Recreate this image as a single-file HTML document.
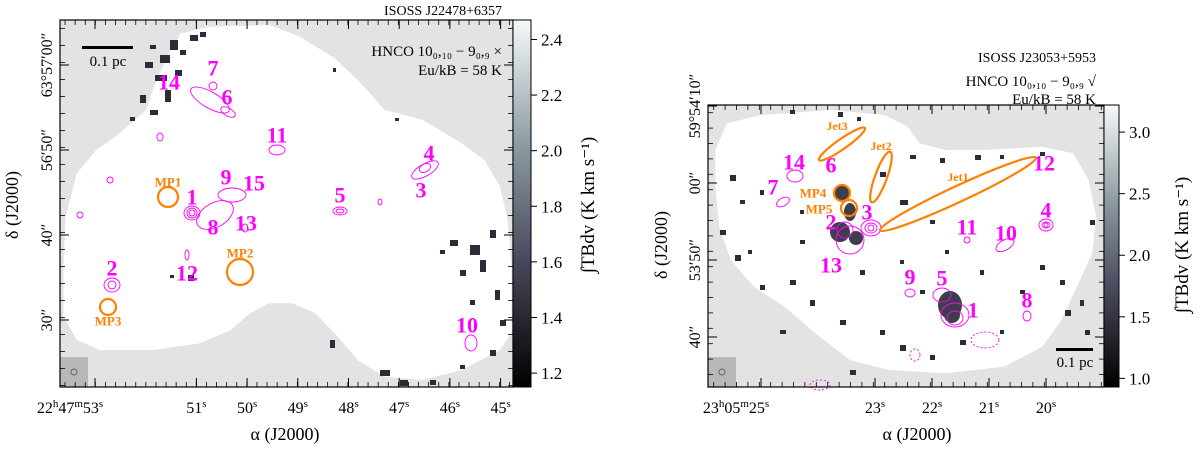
<!DOCTYPE html>
<html><head><meta charset="utf-8"><style>
html,body{margin:0;padding:0;background:#fff;width:1200px;height:449px;overflow:hidden}
svg text{font-family:"Liberation Serif",serif}
</style></head><body>
<svg id="fig" width="1200" height="449" xmlns="http://www.w3.org/2000/svg">
<defs>
<linearGradient id="cbL" x1="0" y1="1" x2="0" y2="0"><stop offset="0" stop-color="#000"/><stop offset="0.35" stop-color="#4a4a5e"/><stop offset="0.65" stop-color="#8a98a0"/><stop offset="1" stop-color="#f5fafa"/></linearGradient>
<clipPath id="clipL"><rect x="60" y="20" width="453" height="367"/></clipPath>
<clipPath id="clipR"><rect x="708" y="105" width="396" height="282"/></clipPath>
</defs>
<g id="panelL"></g>
<g id="panelR"></g>
</svg>
<script>
const NS="http://www.w3.org/2000/svg";
// ---- data arrays ----
const cbTicksL=[1.2,1.4,1.6,1.8,2.0,2.2,2.4];
const cbTicksR=[1.0,1.5,2.0,2.5,3.0];
const raTicksL=[53,51,50,49,48,47,46,45];
const raLabelsL=["22h47m53s","51s","50s","49s","48s","47s","46s","45s"];
const decTicksL=[60,50,40,30];
const decLabelsL=["63°57′00″","56′50″","40″","30″"];
const raTicksR=[25,23,22,21,20];
const raLabelsR=["23h05m25s","23s","22s","21s","20s"];
const decTicksR=[70,60,50,40];
const decLabelsR=["59°54′10″","00″","53′50″","40″"];
// axis functions
const xL=s=>95+(53-s)*50.7, yL=d=>65+(60-d)*8.5;
const xR=s=>761+(25-s)*57, yR=d=>106+(70-d)*7.7;
const cbyL=v=>387-(v-1.15)/(2.47-1.15)*367;
const cbyR=v=>387-(v-0.93)/(3.22-0.93)*282;

function el(tag,attrs,parent,txt){const e=document.createElementNS(NS,tag);for(const k in attrs)e.setAttribute(k,attrs[k]);if(txt!==undefined)e.textContent=txt;parent.appendChild(e);return e;}
const L=document.getElementById('panelL'),R=document.getElementById('panelR');

function poly(pts,sx,ox,sy){return pts.map(p=>(ox+p[0]/sx).toFixed(1)+","+(p[1]/sy).toFixed(1)).join(" ");}
const blobL=[[545,80],[700,75],[780,110],[870,175],[930,240],[970,290],[1000,330],[1100,360],[1200,430],[1260,480],[1300,560],[1320,660],[1330,800],[1330,1000],[1300,1050],[1200,1110],[1100,1140],[1000,1130],[930,1080],[870,1000],[820,940],[760,910],[700,910],[650,940],[600,990],[520,1030],[400,1050],[260,1050],[200,1020],[165,950],[165,800],[170,650],[200,520],[250,450],[300,410],[340,370],[380,330],[400,260],[430,180],[470,100]];
const blobR=[[330,370],[420,345],[600,330],[740,345],[800,380],[830,430],[900,450],[1000,450],[1150,440],[1230,460],[1270,540],[1290,650],[1280,760],[1240,860],[1200,960],[1150,1040],[1050,1100],[900,1120],[750,1110],[650,1080],[560,1000],[480,920],[400,860],[340,780],[310,680],[300,560],[300,450]];

function panel(g,fx,fy,fw,fh,blob,ox,clip){
  el('rect',{x:fx,y:fy,width:fw,height:fh,fill:'#e3e3e3'},g);
  const b=el('polygon',{points:poly(blob,2.6,ox,3),fill:'#fff','clip-path':'url(#'+clip+')'},g);
  
  
  const bm=el('rect',{x:fx,y:fh+fy-30,width:28,height:30,fill:'#b8b8b8'},g);
  
  el('circle',{cx:fx+14,cy:fy+fh-15,r:3,fill:'none',stroke:'#666'},g);
}
panel(L,60,20,453,367,blobL,0,'clipL');
panel(R,708,105,396,282,blobR,600,'clipR');

const pixL=[[150,45,6,4],[160,55,10,8],[145,62,8,6],[170,40,8,10],[180,50,6,5],[155,75,12,6],[140,95,6,8],[150,110,8,5],[165,90,6,12],[190,35,8,6],[200,32,6,5],[175,70,7,6],[130,117,5,4],[450,240,8,6],[470,245,10,10],[480,260,6,12],[490,230,6,8],[460,270,6,6],[495,290,5,10],[440,250,5,4],[470,300,5,5],[500,320,6,6],[490,350,6,6],[380,370,10,6],[400,380,8,6],[430,380,6,5],[460,365,5,4],[330,340,5,8],[188,275,6,6],[170,275,4,3],[333,68,3,4],[395,118,4,3]];
const pixR=[[730,175,6,6],[740,200,5,4],[760,190,4,5],[720,230,6,5],[735,255,6,6],[748,250,4,4],[790,110,5,4],[838,112,5,5],[857,117,4,4],[910,155,6,4],[940,158,5,5],[975,155,6,5],[1000,155,4,4],[1040,152,5,4],[880,172,6,5],[900,200,8,5],[930,220,5,4],[1040,265,5,5],[1060,280,5,5],[1065,310,6,6],[1080,300,4,6],[1090,220,5,5],[800,240,5,4],[790,280,6,5],[810,300,5,6],[840,320,6,5],[880,330,5,5],[900,345,6,6],[930,355,5,5],[960,340,6,5],[1000,330,4,4],[760,285,5,5],[780,330,6,4],[850,370,6,5],[920,290,5,4],[980,270,4,5],[1020,290,5,4],[1085,330,5,5],[900,260,4,4],[800,210,4,4],[860,270,5,5],[945,250,4,4]];
pixL.forEach(p=>{const r=el('rect',{x:p[0],y:p[1],width:p[2],height:p[3],fill:'#2a2c38','clip-path':'url(#clipL)'},L);});
pixR.forEach(p=>{const r=el('rect',{x:p[0],y:p[1],width:p[2],height:p[3],fill:'#2a2c38','clip-path':'url(#clipR)'},R);});
[[842,193,7,9],[850,212,6,9],[840,232,10,10],[856,238,7,7],[950,305,12,14],[952,315,8,8]].forEach(b=>{const e=el('ellipse',{cx:b[0],cy:b[1],rx:b[2],ry:b[3],fill:'#3c3e4a'},R);});

const mg='#ff00ff';
function ell(g,cx,cy,rx,ry,rot,c,sw,dash){const e=el('ellipse',{cx,cy,rx,ry,fill:'none',stroke:c||mg,'stroke-width':sw||0.9,transform:`rotate(${rot||0} ${cx} ${cy})`},g);if(dash)e.setAttribute('stroke-dasharray',dash);return e;}
[[192,213,8,7],[192,213,5,5],[192,213,3,3],[112,285,8,7],[112,285,4,4],[425,170,15,6,-30],[425,168,6,4,-30],[340,211,7,4],[340,211,4,2],[471,343,6,8],[277,150,8,5],[213,86,4,4],[210,100,22,8,30],[228,112,8,4,30],[215,215,20,12,-30],[232,195,14,7],[245,228,3,4],[187,255,2,5],[380,202,2,3],[160,137,3,4],[110,180,3,3],[80,215,3,3]].forEach(c=>{const e=ell(L,c[0],c[1],c[2],c[3],c[4]);});
[[871,228,10,8],[871,228,6,5],[871,228,3,3],[1046,225,7,6],[1046,225,4,3],[1046,225,2,2],[942,295,9,7],[955,315,14,12],[955,318,8,7],[910,293,5,4],[1027,316,4,5],[1005,245,10,5,-30],[967,240,3,3],[795,176,8,6],[783,202,7,4,-30],[850,240,14,14],[845,230,8,8]].forEach(c=>{const e=ell(R,c[0],c[1],c[2],c[3],c[4]);});
[[985,340,14,8],[915,355,5,6],[820,385,10,5]].forEach(c=>{const e=ell(R,c[0],c[1],c[2],c[3],0,mg,0.9,'2,2');});

function lbl(g,x,y,t,size,col,name){const e=el('text',{x,y,'font-size':size,'font-weight':'bold',fill:col,'text-anchor':'middle','dominant-baseline':'central'},g,t);return e;}
const srcL=[["1",192,197],["2",112,268],["3",421,190],["4",429,153],["5",340,195],["6",227,97],["7",213,68],["8",213,227],["9",226,177],["10",467,325],["11",277,135],["12",187,273],["13",246,223],["14",169,82],["15",254,183]];
const srcR=[["1",973,310],["2",831,222],["3",867,212],["4",1046,210],["5",942,278],["6",831,165],["7",773,187],["8",1027,300],["9",910,277],["10",1006,233],["11",967,227],["12",1044,163],["13",831,265],["14",794,162]];
srcL.forEach(s=>lbl(L,s[1],s[2],s[0],22,mg,'source-label-'+s[0]));
srcR.forEach(s=>lbl(R,s[1],s[2],s[0],22,mg,'source-label-'+s[0]));
const or='#ff8000';
[[168,197,10,"MP1",168,182],[240,272,13,"MP2",240,253],[108,307,8,"MP3",108,321]].forEach(m=>{const c=ell(L,m[0],m[1],m[2],m[2],0,or,2.2);lbl(L,m[4],m[5],m[3],13,or,'label-'+m[3].toLowerCase());});
[[842,193,8,"MP4",813,193],[849,208,8,"MP5",819,209]].forEach(m=>{const c=ell(R,m[0],m[1],m[2],m[2],0,or,2.2);lbl(R,m[4],m[5],m[3],13,or,'label-'+m[3].toLowerCase());});
[[842,144,28,5,-35,"Jet3",837,126],[881,177,27,6,-70,"Jet2",881,146],[958,194,86,8,-25,"Jet1",958,177]].forEach(j=>{const c=ell(R,j[0],j[1],j[2],j[3],j[4],or,2.2);lbl(R,j[6],j[7],j[5],12,or,'label-'+j[5].toLowerCase());});

function raText(g,x,y,s){
  const t=el('text',{x,y,'font-size':16,'text-anchor':'middle'},g);
  const parts=s.match(/\d+|[hms]/g);
  parts.forEach(p=>{const ts=el('tspan',/[hms]/.test(p)?{'font-size':11,dy:-6}:{dy:0},t,p);if(/[hms]/.test(p)){ts.setAttribute('dy',-6);} });
  // reset baselines
  let prevSup=false;[...t.childNodes].forEach(n=>{const sup=/[hms]/.test(n.textContent);n.setAttribute('dy',sup?(prevSup?0:-6):(prevSup?6:0));prevSup=sup;});
  return t;
}
function frame(g,fx,fy,fw,fh,xf,xt,xl,yf,yt,yl,minorX,minorY){
  const f=el('rect',{x:fx,y:fy,width:fw,height:fh,fill:'none',stroke:'#000','stroke-width':1.2},g);
  xt.forEach((v,i)=>{const x=xf(v);el('line',{x1:x,y1:fy,x2:x,y2:fy+9,stroke:'#000'},g);el('line',{x1:x,y1:fy+fh,x2:x,y2:fy+fh-9,stroke:'#000'},g);
    const t=raText(g,x+(i==0?-25:0),fy+fh+26,xl[i]);});
  for(let x=fx+minorX/2;x<fx+fw;x+=minorX){el('line',{x1:x,y1:fy,x2:x,y2:fy+5,stroke:'#000','stroke-width':0.8},g);el('line',{x1:x,y1:fy+fh,x2:x,y2:fy+fh-5,stroke:'#000','stroke-width':0.8},g);}
  yt.forEach((v,i)=>{const y=yf(v);el('line',{x1:fx,y1:y,x2:fx+9,y2:y,stroke:'#000'},g);el('line',{x1:fx+fw,y1:y,x2:fx+fw-9,y2:y,stroke:'#000'},g);
    const t=el('text',{x:fx-8,y:y,'font-size':16,'text-anchor':'middle',transform:`rotate(-90 ${fx-8} ${y})`},g,yl[i]);});
  for(let y=fy+minorY/2;y<fy+fh;y+=minorY){el('line',{x1:fx,y1:y,x2:fx+5,y2:y,stroke:'#000','stroke-width':0.8},g);el('line',{x1:fx+fw,y1:y,x2:fx+fw-5,y2:y,stroke:'#000','stroke-width':0.8},g);}
}
frame(L,60,20,453,367,xL,raTicksL,raLabelsL,yL,decTicksL,decLabelsL,10.1,17);
frame(R,708,105,396,282,xR,raTicksR,raLabelsR,yR,decTicksR,decLabelsR,11.4,15.4);

function cbar(g,x,y,w,h,ticks,fy){
  const r=el('rect',{x,y,width:w,height:h,fill:'url(#cbL)',stroke:'#000'},g);
  ticks.forEach(v=>{const yy=fy(v);el('line',{x1:x+w,y1:yy,x2:x+w+6,y2:yy,stroke:'#000'},g);
    const t=el('text',{x:x+w+10,y:yy+6,'font-size':17},g,v.toFixed(1));});
}
cbar(L,513,20,18,367,cbTicksL,cbyL);
cbar(R,1104,105,15,282,cbTicksR,cbyR);
function rt(g,x,y,t,size,name){const e=el('text',{x,y,'font-size':size,'text-anchor':'middle',transform:`rotate(-90 ${x} ${y})`},g,t);}
rt(L,594,205,"∫TBdv (K km s⁻¹)",19,'colorbar-title');
rt(R,1188,245,"∫TBdv (K km s⁻¹)",19,'colorbar-title');
rt(L,18,205,"δ (J2000)",18,'y-axis-title');
rt(R,667,245,"δ (J2000)",18,'y-axis-title');
function tx(g,x,y,t,size,anchor,name){const e=el('text',{x,y,'font-size':size,'text-anchor':anchor},g,t);}
tx(L,285,440,"α (J2000)",18,'middle','x-axis-title');
tx(R,917,440,"α (J2000)",18,'middle','x-axis-title');
tx(L,502,15,"ISOSS J22478+6357",14,'end','panel-title');
tx(L,502,56,"HNCO 10₀,₁₀ − 9₀,₉ ×",15,'end','line-label');
tx(L,502,75,"Eu/kB = 58 K",15,'end','energy-label');
tx(R,1096,62,"ISOSS J23053+5953",14,'end','panel-title');
tx(R,1096,86,"HNCO 10₀,₁₀ − 9₀,₉ √",15,'end','line-label');
tx(R,1096,104,"Eu/kB = 58 K",15,'end','energy-label');
el('rect',{x:82,y:46,width:51,height:3,fill:'#000'},L);
tx(L,108,66,"0.1 pc",15,'middle','scale-bar-label');
el('rect',{x:1056,y:348,width:37,height:3,fill:'#000'},R);
tx(R,1075,367,"0.1 pc",15,'middle','scale-bar-label');
</script>
</body></html>
